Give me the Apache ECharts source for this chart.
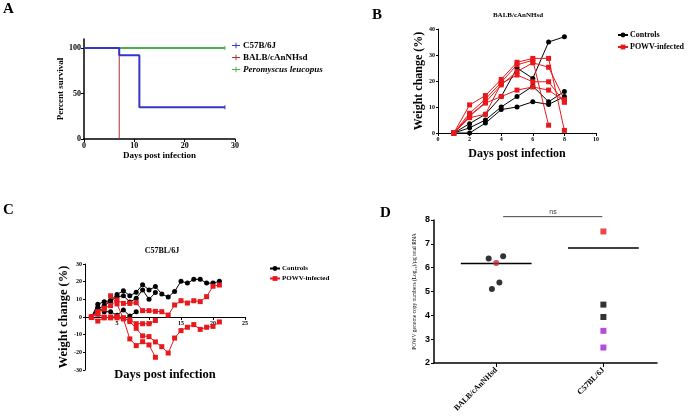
<!DOCTYPE html>
<html>
<head>
<meta charset="utf-8">
<script src="https://cdn.jsdelivr.net/npm/echarts@6/dist/echarts.min.js"></script>
<style>
  html, body { margin: 0; padding: 0; background: #fff; }
  #chart { width: 688px; height: 417px; }
</style>
</head>
<body>
<div id="chart"></div>
<script>
// ---- A: survival (Kaplan-Meier steps)
var c57SurvDays = [0, 7, 11, 28];
var c57SurvPct = [100, 92, 35, 35];
var balbSurvDays = [0, 7];
var balbSurvPct = [100, 0];
var peroSurvDays = [0, 28];
var peroSurvPct = [100, 100];
var survTicks = [0, 50, 100];

// ---- B: BALB/cAnNHsd weight change
var bDays = [1, 2, 3, 4, 5, 6, 7, 8];
var bControls = [
  [0, 3.6, 7.2, 14, 25, 21, 35, 37],
  [0, 2, 5, 10, 14, 18, 12, 16],
  [0, 0, 3.8, 9, 10, 12, 11, 14]
];
var bInfected = [
  [0, 10.8, 14.4, 20.6, 27.2, 28.7, 28.7, 1],
  [0, 7.6, 13, 19.5, 26.2, 28, 3],
  [0, 6.7, 11.8, 18.5, 23.6, 27, 25.3, 12.8],
  [0, 5.9, 7.2, 19, 22.3, 19.7, 19.7, 11.8],
  [0, 6.5, 11.5, 14, 16.5, 17.7, 16.5, 12.2]
];

// ---- C: C57BL/6J weight change
var cDays = [1, 2, 3, 4, 5, 6, 7, 8, 9, 10, 11, 12, 13, 14, 15, 16, 17, 18, 19, 20, 21];
var cControls = [
  [0, 7.2, 8.7, 9.2, 12.8, 14.9, 12, 14, 18.3, 15.3, 17.2, 13, 11.3, 14.5, 20.2, 19.2, 21.3, 21.3, 19.2, 19.2, 20.2],
  [0, 4.5, 6.4, 9, 11.5, 12, 8.5, 10.6, 15.3, 10, 13.8],
  [0, 5.5, 3, 3, 1, 4, 0.6, 3]
];
var cInfected = [
  [0, 2.5, 5, 6.4, 9.6, 7.7, 7.7, 8.1, 3.6, 3.6, 3.2, 3, 1.1, 6.8, 9.2, 7.9, 9.2, 8.7, 11.5, 17.4, 18.1],
  [0, -2.3, -0.5, 0, 0.2, -0.4, -2.6, -6.4, -10.7, -11.1, -14.1, -16.8, -20.4, -11.9, -7.7, -5.8, -4.3, -7, -5.8, -5.3, -2.8],
  [0, 3, 4.5, 12, 7.4, -1, -12.4, -16.2, -14, -15.8, -22.8],
  [0, 1.5, 0, -0.5, -0.5, -1, -1.5, -3.8, -3.8, -3.8, -2]
];

// ---- D: POWV genome copies (log10) per group
var dCategories = ['BALB/cAnNHsd', 'C57BL/6J'];
var balbBlack = [6.38, 6.48, 5.38, 5.1];
var balbBlackJitter = [-0.07, 0.065, 0.03, -0.04];
var balbRed = [6.2];
var c57Red = [7.52];
var c57Black = [4.45, 3.93];
var c57Purple = [3.35, 2.65];
var groupMeans = [6.18, 6.83];
var nsLevel = 8.14;

var serif = 'Liberation Serif';
var red = '#e8191c';
// legend mark of panel A: short line with a censor tick
var kmIcon = 'path://M0,4.4h10v1.2h-10z M4.4,1.5h1.2v7h-1.2z';

function txt(size, extra) {
  var o = { fontFamily: serif, fontWeight: 'bold', fontSize: size, color: '#000' };
  for (var k in extra) o[k] = extra[k];
  return o;
}

function pairs(xs, ys) {
  return ys.map(function (y, i) { return [xs[i], y]; });
}

var series = [];

// A
var survSets = [
  { name: 'Peromyscus leucopus', x: peroSurvDays, y: peroSurvPct, color: '#4cb24c', width: 2 },
  { name: 'BALB/cAnNHsd', x: balbSurvDays, y: balbSurvPct, color: '#b52a2a', width: 1 },
  { name: 'C57B/6J', x: c57SurvDays, y: c57SurvPct, color: '#3535c8', width: 2 }
];
survSets.forEach(function (s) {
  var n = s.y.length;
  series.push({
    type: 'line', name: s.name, xAxisIndex: 0, yAxisIndex: 0,
    step: 'end', data: pairs(s.x, s.y),
    symbol: 'rect',
    symbolSize: function (v, p) { return p.dataIndex === n - 1 && v[1] > 0 ? [1, 4] : 0; },
    lineStyle: { color: s.color, width: s.width },
    itemStyle: { color: s.color }
  });
});

// B and C
function weightSeries(list, days, axis, name, symbol, color, size) {
  list.forEach(function (vals) {
    series.push({
      type: 'line', name: name, xAxisIndex: axis, yAxisIndex: axis,
      data: pairs(days, vals), symbol: symbol, symbolSize: size,
      lineStyle: { color: color, width: 1 }, itemStyle: { color: color }
    });
  });
}
weightSeries(bControls, bDays, 1, 'Controls', 'circle', '#000', 5);
weightSeries(bInfected, bDays, 1, 'POWV-infected', 'rect', red, 5);
weightSeries(cControls, cDays, 2, 'Controls', 'circle', '#000', 5);
weightSeries(cInfected, cDays, 2, 'POWV-infected', 'rect', red, 5);

// D
function dots(vals, group, jitter, symbol, color, size) {
  series.push({
    type: 'scatter', xAxisIndex: 3, yAxisIndex: 3, symbol: symbol, symbolSize: size,
    data: vals.map(function (v, i) { return [group + (jitter ? jitter[i] : 0), v]; }),
    itemStyle: { color: color }, z: 3
  });
}
dots(balbBlack, 1, balbBlackJitter, 'circle', '#000', 6);
dots(balbRed, 1, null, 'circle', '#c0282d', 6);
dots(c57Red, 2, null, 'rect', red, 6);
dots(c57Black, 2, null, 'rect', '#000', 6);
dots(c57Purple, 2, null, 'rect', '#a020d8', 6);
groupMeans.forEach(function (m, i) {
  series.push({
    type: 'line', xAxisIndex: 3, yAxisIndex: 3, symbol: 'none', silent: true,
    data: [[i + 1 - 0.33, m], [i + 1 + 0.33, m]],
    lineStyle: { color: '#000', width: 1.5 }
  });
});
series.push({
  type: 'line', xAxisIndex: 3, yAxisIndex: 3, symbol: 'none', clip: false, silent: true,
  data: [[1.065, nsLevel], [1.99, nsLevel]],
  lineStyle: { color: '#444', width: 1 }
});
series.push({
  type: 'scatter', xAxisIndex: 3, yAxisIndex: 3, symbolSize: 0, clip: false, silent: true,
  data: [[1.53, nsLevel]],
  label: { show: true, position: 'top', distance: 1, formatter: 'ns',
           fontFamily: 'Liberation Sans', fontSize: 7, color: '#000' }
});

var axisLine = { lineStyle: { color: '#000', width: 1 } };
var axisTick = { length: 3, lineStyle: { color: '#000' } };

var option = {
  animation: false,
  backgroundColor: '#fff',
  title: [
    { text: 'A', left: 3, top: 2, padding: 0, textStyle: txt(15) },
    { text: 'B', left: 372, top: 8, padding: 0, textStyle: txt(15) },
    { text: 'C', left: 3, top: 203, padding: 0, textStyle: txt(15) },
    { text: 'D', left: 380, top: 206, padding: 0, textStyle: txt(15) },
    { text: 'BALB/cAnNHsd', left: 518, top: 12, padding: 0, textAlign: 'center', textStyle: txt(7) },
    { text: 'C57BL/6J', left: 162, top: 247, padding: 0, textAlign: 'center', textStyle: txt(8) }
  ],
  legend: [
    {
      data: [
        { name: 'C57B/6J', icon: kmIcon },
        { name: 'BALB/cAnNHsd', icon: kmIcon },
        { name: 'Peromyscus leucopus', icon: kmIcon }
      ],
      orient: 'vertical', left: 232, top: 41, padding: 0, itemGap: 3,
      itemWidth: 8, itemHeight: 6,
      textStyle: txt(9, { padding: [0, 0, 0, -2], rich: { i: txt(9, { fontStyle: 'italic' }) } }),
      formatter: function (n) { return n === 'Peromyscus leucopus' ? '{i|' + n + '}' : n; }
    },
    {
      data: ['Controls', 'POWV-infected'],
      orient: 'vertical', left: 617, top: 31, padding: 0, itemGap: 4,
      itemWidth: 10, itemHeight: 6, textStyle: txt(8, { padding: [0, 0, 0, -3] })
    },
    {
      data: ['Controls', 'POWV-infected'],
      orient: 'vertical', left: 269, top: 265, padding: 0, itemGap: 3,
      itemWidth: 10, itemHeight: 6, textStyle: txt(7, { padding: [0, 0, 0, -3] })
    }
  ],
  grid: [
    { left: 84, top: 39, width: 151, height: 100 },
    { left: 438, top: 29, width: 158, height: 104 },
    { left: 85, top: 264, width: 160, height: 106 },
    { left: 434, top: 220, width: 223, height: 143 }
  ],
  xAxis: [
    {
      gridIndex: 0, type: 'value', min: 0, max: 30, interval: 10,
      name: 'Days post infection', nameLocation: 'middle', nameGap: 12, nameTextStyle: txt(9),
      axisLine: { lineStyle: { color: '#000', width: 1.5 } }, axisTick: axisTick,
      axisLabel: txt(8, { margin: 3 }), splitLine: { show: false }
    },
    {
      gridIndex: 1, type: 'value', min: 0, max: 10, interval: 2,
      name: 'Days post infection', nameLocation: 'middle', nameGap: 15, nameTextStyle: txt(12),
      axisLine: axisLine, axisTick: axisTick,
      axisLabel: txt(6, { margin: 3 }), splitLine: { show: false }
    },
    {
      // axis drawn at weight change 0: grid height 106 over 60 units, 30 units up
      gridIndex: 2, type: 'value', min: 0, max: 25, interval: 5, offset: -53,
      name: 'Days post infection', nameLocation: 'middle', nameGap: 51, nameTextStyle: txt(12.5),
      axisLine: { onZero: false, lineStyle: { color: '#000', width: 1 } }, axisTick: axisTick,
      axisLabel: txt(6, { margin: 3, showMinLabel: false }), splitLine: { show: false }
    },
    {
      gridIndex: 3, type: 'value', min: 0.42, max: 2.5,
      axisLine: { lineStyle: { color: '#000', width: 1.5 } },
      axisTick: { length: 4, customValues: [1, 2], lineStyle: { color: '#000' } },
      axisLabel: txt(8, {
        customValues: [1, 2], rotate: 45, margin: 6,
        formatter: function (v) { return dCategories[Math.round(v) - 1]; }
      }),
      splitLine: { show: false }
    }
  ],
  yAxis: [
    {
      gridIndex: 0, type: 'value', min: 0, max: 110,
      name: 'Percent survival', nameLocation: 'middle', nameGap: 17, nameTextStyle: txt(9),
      axisLine: { show: true, lineStyle: { color: '#000', width: 1.5 } },
      axisTick: { show: true, length: 3, customValues: survTicks, lineStyle: { color: '#000' } },
      axisLabel: txt(8, { margin: 3, customValues: survTicks }), splitLine: { show: false }
    },
    {
      gridIndex: 1, type: 'value', min: 0, max: 40, interval: 10,
      name: 'Weight change (%)', nameLocation: 'middle', nameGap: 9, nameTextStyle: txt(12),
      axisLine: { show: true, lineStyle: { color: '#000' } },
      axisTick: { show: true, length: 2, lineStyle: { color: '#000' } },
      axisLabel: txt(6, { margin: 3 }), splitLine: { show: false }
    },
    {
      gridIndex: 2, type: 'value', min: -30, max: 30, interval: 10,
      name: 'Weight change (%)', nameLocation: 'middle', nameGap: 13, nameTextStyle: txt(12.5),
      axisLine: { show: true, lineStyle: { color: '#000' } },
      axisTick: { show: true, length: 2, lineStyle: { color: '#000' } },
      axisLabel: txt(6, { margin: 3 }), splitLine: { show: false }
    },
    {
      gridIndex: 3, type: 'value', min: 2, max: 8, interval: 1,
      name: 'POWV genome copy numbers (Log\u2081\u2080)/\u00b5g total RNA',
      nameLocation: 'middle', nameGap: 16, nameTextStyle: txt(5.5, { fontWeight: 'normal' }),
      axisLine: { show: true, lineStyle: { color: '#000', width: 1.5 } },
      axisTick: { show: true, length: 3, lineStyle: { color: '#000' } },
      axisLabel: { fontFamily: 'Liberation Sans', fontWeight: 'bold', fontSize: 9, color: '#000', margin: 4 },
      splitLine: { show: false }
    }
  ],
  series: series
};

var myChart = echarts.init(document.getElementById('chart'));
myChart.setOption(option);
</script>
</body>
</html>
